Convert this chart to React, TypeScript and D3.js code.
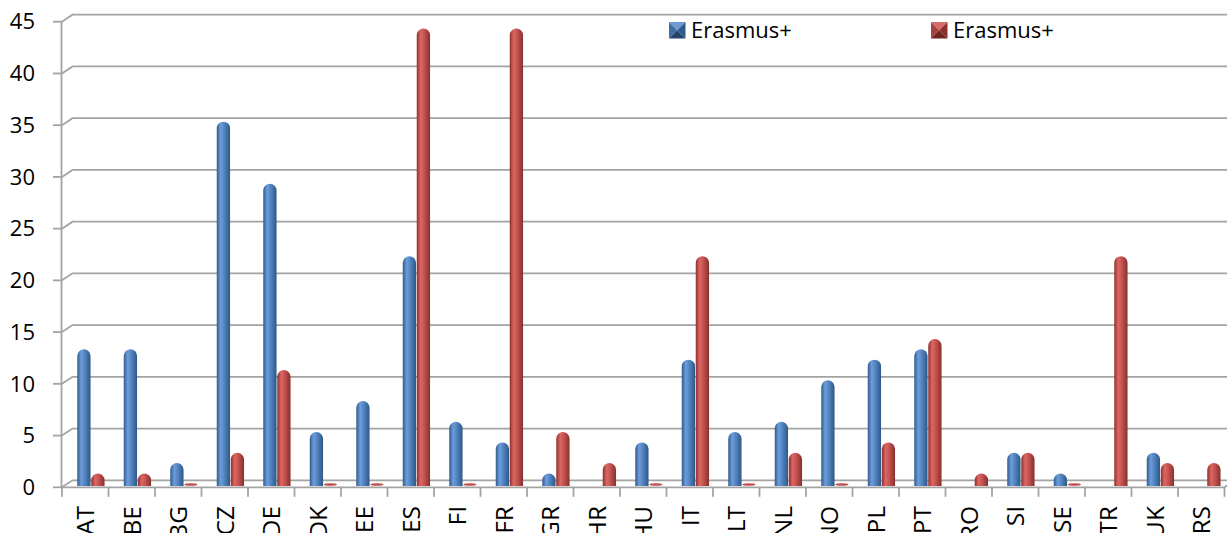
import React from "react";
import * as d3 from "d3";

const categories = ["AT","BE","BG","CZ","DE","DK","EE","ES","FI","FR","GR","HR","HU","IT","LT","NL","NO","PL","PT","RO","SI","SE","TR","UK","RS"];
const seriesNames = ["Erasmus+", "Erasmus+"];
const blueValues: (number | null)[] = [13,13,2,35,29,5,8,22,6,4,1,null,4,12,5,6,10,12,13,null,3,1,null,3,null];
const redValues: (number | null)[] = [1,1,0,3,11,0,0,44,0,44,5,2,0,22,0,3,0,4,14,1,3,0,22,2,2];
const yTicks = [0,5,10,15,20,25,30,35,40,45];

const W = 1227, H = 533;
const x0 = 62, x1 = 1224.5;
const DX = 10.5, DY = -7;
const FONT = "'Open Sans', 'Liberation Sans', sans-serif";

function cylPath(x: number, w: number, top: number, bottom: number) {
  const r = Math.min(w / 2, (bottom - top));
  const topY = top + r;
  return `M${x},${bottom} L${x},${topY} A${w / 2},${r} 0 0 1 ${x + w},${topY} L${x + w},${bottom} Z`;
}

function LegendMarker({ x, y, s, c }: { x: number; y: number; s: number; c: string[] }) {
  const cx = x + s / 2, cy = y + s / 2;
  return (
    <g>
      <polygon points={`${x},${y} ${x + s},${y} ${cx},${cy}`} fill={c[0]} />
      <polygon points={`${x},${y} ${cx},${cy} ${x},${y + s}`} fill={c[1]} />
      <polygon points={`${x + s},${y} ${x + s},${y + s} ${cx},${cy}`} fill={c[2]} />
      <polygon points={`${x},${y + s} ${x + s},${y + s} ${cx},${cy}`} fill={c[3]} />
    </g>
  );
}

export default function App() {
  const y = d3.scaleLinear().domain([0, 45]).range([487.3, 21.7]);
  const xb = d3.scaleBand<string>().domain(categories).range([x0, x1]).padding(0);
  const bw = 13.3;
  const grid = "#a3a3a3";

  const bars: JSX.Element[] = [];
  categories.forEach((c, i) => {
    const cx = (xb(c) as number) + xb.bandwidth() / 2;
    const series = [blueValues[i], redValues[i]];
    series.forEach((v, s) => {
      if (v === null) return;
      const bx = cx - 8 + s * (bw + 0.7);
      const bottom = y(0) - 1.3;
      if (v === 0) {
        bars.push(
          <ellipse key={`${c}-${s}`} cx={bx + bw / 2} cy={bottom - 1.5} rx={bw / 2} ry={1.3}
            fill={s === 0 ? "#4f81bd" : "#c0504d"} />
        );
        return;
      }
      const top = y(v) - 3.5;
      bars.push(
        <path key={`${c}-${s}`} d={cylPath(bx, bw, top, bottom)} fill={`url(#cyl${s})`} />
      );
    });
  });

  return (
    <svg width={W} height={H} style={{ position: "absolute", left: 0, top: 0, background: "#fff" }}
      fontFamily={FONT}>
      <defs>
        <linearGradient id="cyl0" x1="0" x2="1" y1="0" y2="0">
          <stop offset="0%" stopColor="#2f5b8e" />
          <stop offset="30%" stopColor="#6d9ddb" />
          <stop offset="60%" stopColor="#4f81bd" />
          <stop offset="100%" stopColor="#2e5785" />
        </linearGradient>
        <linearGradient id="cyl1" x1="0" x2="1" y1="0" y2="0">
          <stop offset="0%" stopColor="#8e302d" />
          <stop offset="30%" stopColor="#dd6764" />
          <stop offset="60%" stopColor="#c0504d" />
          <stop offset="100%" stopColor="#86302d" />
        </linearGradient>
      </defs>

      {yTicks.map((t) => (
        <g key={`g${t}`} stroke={grid} strokeWidth={1.8} fill="none">
          <line x1={53} x2={x0} y1={y(t)} y2={y(t)} />
          <polyline points={`${x0},${y(t)} ${x0 + DX},${y(t) + DY} ${W + 5},${y(t) + DY}`} />
        </g>
      ))}
      <line x1={61.5} x2={61.5} y1={y(45)} y2={y(0)} stroke={grid} strokeWidth={1.8} />
      <polyline points={`${x0},${y(0)} ${x1},${y(0)} ${x1 + DX},${y(0) + DY}`} stroke={grid} strokeWidth={1.8} fill="none" />
      {d3.range(categories.length + 1).map((i) => {
        const xx = x0 + i * xb.bandwidth();
        return <line key={`ct${i}`} x1={xx} x2={xx} y1={y(0)} y2={y(0) + 9.5} stroke={grid} strokeWidth={1.8} />;
      })}

      {yTicks.map((t) => (
        <text key={`yl${t}`} x={35} y={y(t)} dy="0.35em" textAnchor="end" fontSize={22} fill="#000">{t}</text>
      ))}

      {categories.map((c) => {
        const cx = (xb(c) as number) + xb.bandwidth() / 2;
        return (
          <text key={`cl${c}`} transform={`translate(${cx},506) rotate(-90)`} textAnchor="end" dy="0.36em"
            fontSize={24.5} fill="#000">{c}</text>
        );
      })}

      {bars}

      <LegendMarker x={669} y={22} s={16.5} c={["#6f9bd4", "#3f6ea6", "#2f5a8c", "#24466e"]} />
      <text x={691} y={30.5} dy="0.35em" fontSize={22} fill="#000">{seriesNames[0]}</text>
      <LegendMarker x={931} y={22} s={16.5} c={["#d66b68", "#a8423f", "#8c302d", "#6e2422"]} />
      <text x={953} y={30.5} dy="0.35em" fontSize={22} fill="#000">{seriesNames[1]}</text>
    </svg>
  );
}
